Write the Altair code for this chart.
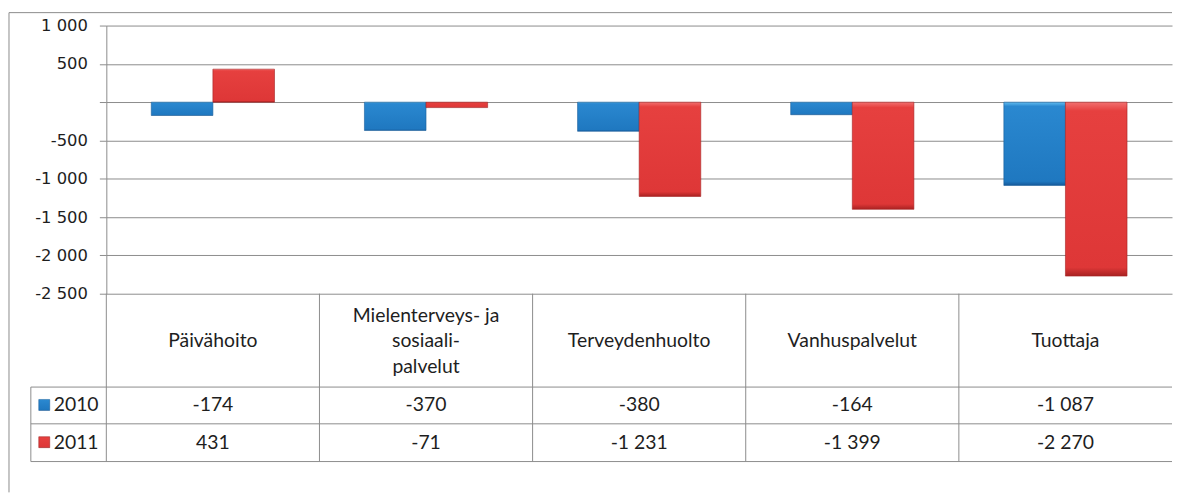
import altair as alt
import pandas as pd

# ---- data ----
categories = ["Päivähoito", "Mielenterveys- ja\nsosiaali-\npalvelut", "Terveydenhuolto",
              "Vanhuspalvelut", "Tuottaja"]
years = ["2010", "2011"]
values_2010 = [-174, -370, -380, -164, -1087]
values_2011 = [431, -71, -1231, -1399, -2270]
y_ticks = [1000, 500, 0, -500, -1000, -1500, -2000, -2500]
y_domain = [-2500, 1000]


def fmt(v):
    return ("-" if v < 0 else "") + f"{abs(v):,}".replace(",", " ")


rows = []
for yr, vals in zip(years, [values_2010, values_2011]):
    for c, v in zip(categories, vals):
        rows.append({"category": c, "year": yr, "value": v, "label": fmt(v)})
df = pd.DataFrame(rows)
one = pd.DataFrame({"k": [0]})

# ---- layout / style ----
W, H = 1073, 270
GRID = "#8c8c8c"
TXT = "#1e1e1e"
TFONT = "Lato"
TSIZE = 19.5
LINE_H = 26
HEAD_BOTTOM, ROW1_BOTTOM, TABLE_BOTTOM = 364, 401, 439
LEG_LEFT = -76

blue = alt.LinearGradient(gradient="linear", x1=0, x2=0, y1=0, y2=1, stops=[
    alt.GradientStop(color="#62bdf0", offset=0),
    alt.GradientStop(color="#2a88d0", offset=0.05),
    alt.GradientStop(color="#1f78c0", offset=0.95),
    alt.GradientStop(color="#15599a", offset=1)])
red = alt.LinearGradient(gradient="linear", x1=0, x2=0, y1=0, y2=1, stops=[
    alt.GradientStop(color="#f27070", offset=0),
    alt.GradientStop(color="#e6403f", offset=0.05),
    alt.GradientStop(color="#de3737", offset=0.95),
    alt.GradientStop(color="#a82222", offset=1)])
fills = {"2010": (blue, "#1a5f9c"), "2011": (red, "#a52424")}

xscale = alt.Scale(domain=categories, paddingInner=0, paddingOuter=0)
xenc = alt.X("category:N", sort=categories, scale=xscale, axis=None)

yaxis = alt.Axis(values=y_ticks, title=None, grid=True, gridColor=GRID, gridWidth=1,
                 domainColor=GRID, tickColor=GRID, tickSize=7, labelPadding=12,
                 labelFont="DejaVu Sans", labelFontSize=16.5, labelColor=TXT,
                 labelExpr="datum.value == 0 ? '' : (datum.value < 0 ? '-' : '') + "
                           "replace(format(abs(datum.value), ','), ',', ' ')")

base = alt.Chart(df)
layers = []
for yr in years:
    g, s = fills[yr]
    layers.append(
        base.transform_filter(alt.datum.year == yr)
        .mark_bar(fill=g, stroke=s, strokeWidth=0.6)
        .encode(
            x=xenc,
            xOffset=alt.XOffset("year:N", scale=alt.Scale(domain=years, paddingInner=0,
                                                         paddingOuter=0.73)),
            y=alt.Y("value:Q", scale=alt.Scale(domain=y_domain, nice=False), axis=yaxis),
        )
    )

first = base.transform_filter(alt.datum.year == years[0])

# table column borders
layers.append(first.mark_rule(color=GRID, strokeWidth=1).encode(
    x=alt.X("category:N", sort=categories, scale=xscale, axis=None, bandPosition=0),
    y=alt.value(H), y2=alt.value(TABLE_BOTTOM)))
# table row borders
for yy in [HEAD_BOTTOM, ROW1_BOTTOM, TABLE_BOTTOM]:
    layers.append(alt.Chart(one).mark_rule(color=GRID, strokeWidth=1).encode(
        x=alt.value(LEG_LEFT), x2=alt.value(W), y=alt.value(yy)))
layers.append(alt.Chart(one).mark_rule(color=GRID, strokeWidth=1).encode(
    x=alt.value(LEG_LEFT), y=alt.value(HEAD_BOTTOM), y2=alt.value(TABLE_BOTTOM)))

# header texts (single-line and three-line headers centred in the header row)
head_mid = (H + HEAD_BOTTOM) / 2 + 1
layers.append(first.transform_filter("indexof(datum.category, '\\n') < 0").mark_text(
    font=TFONT, fontSize=TSIZE, color=TXT, baseline="middle", align="center").encode(
    x=xenc, y=alt.value(head_mid), text="category:N"))
layers.append(first.transform_filter("indexof(datum.category, '\\n') >= 0").mark_text(
    font=TFONT, fontSize=TSIZE, lineBreak="\n", lineHeight=LINE_H, color=TXT,
    baseline="middle", align="center").encode(
    x=xenc, y=alt.value(head_mid - LINE_H), text="category:N"))

# value rows + legend keys
row_y = {"2010": (HEAD_BOTTOM + ROW1_BOTTOM) / 2, "2011": (ROW1_BOTTOM + TABLE_BOTTOM) / 2}
for yr in years:
    g, s = fills[yr]
    sub = base.transform_filter(alt.datum.year == yr)
    layers.append(sub.mark_text(font=TFONT, fontSize=TSIZE, color=TXT, baseline="middle",
                                align="center").encode(
        x=xenc, y=alt.value(row_y[yr]), text="label:N"))
    layers.append(alt.Chart(pd.DataFrame({"year": [yr]})).mark_rect(
        fill=g, stroke=s, strokeWidth=0.6).encode(
        x=alt.value(-68), x2=alt.value(-57),
        y=alt.value(row_y[yr] - 6), y2=alt.value(row_y[yr] + 5)))
    layers.append(alt.Chart(pd.DataFrame({"year": [yr]})).mark_text(
        font=TFONT, fontSize=TSIZE, color=TXT, baseline="middle", align="left").encode(
        x=alt.value(-53), y=alt.value(row_y[yr]), text="year:N"))

# outer chart-area frame (top and left edges)
layers.append(alt.Chart(one).mark_rule(color=GRID, strokeWidth=1).encode(
    x=alt.value(-98), x2=alt.value(W), y=alt.value(-13)))
layers.append(alt.Chart(one).mark_rule(color=GRID, strokeWidth=1).encode(
    x=alt.value(-98), y=alt.value(-13), y2=alt.value(470)))
# invisible spacer so the plot top sits at the reference position
layers.append(alt.Chart(one).mark_rule(opacity=0, strokeWidth=1).encode(
    x=alt.value(0), x2=alt.value(10), y=alt.value(-15.5)))

chart = (
    alt.layer(*layers)
    .properties(width=W, height=H, padding={"left": 0, "top": 0, "right": 0, "bottom": 0})
    .configure_view(stroke=None)
)

chart.save("out.html", embed_options={"renderer": "svg", "actions": False})
